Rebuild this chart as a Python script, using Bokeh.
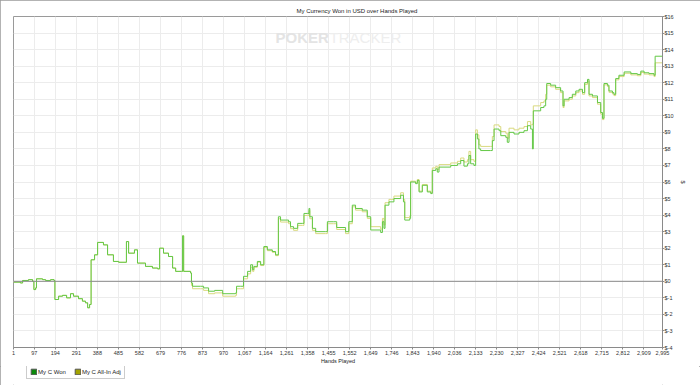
from bokeh.plotting import figure
from bokeh.layouts import column
from bokeh.models import FixedTicker, Span, Legend, LegendItem, Label, Range1d
from bokeh.embed import file_html
from bokeh.resources import INLINE

# ---- data ----
hands = [1, 33, 43, 70, 89, 95, 103, 107, 135, 149,
         172, 188, 192, 209, 227, 246, 264, 278, 301, 319,
         333, 343, 352, 359, 375, 389, 416, 435, 462, 486,
         522, 532, 559, 573, 610, 642, 666, 675, 693, 716,
         735, 749, 776, 781, 786, 818, 822, 827, 864, 878,
         901, 929, 966, 1026, 1030, 1049, 1062, 1081, 1095, 1104,
         1110, 1126, 1141, 1156, 1172, 1195, 1210, 1223, 1233, 1270,
         1279, 1293, 1312, 1335, 1341, 1356, 1364, 1368, 1380, 1395,
         1441, 1449, 1478, 1492, 1533, 1548, 1564, 1579, 1610, 1633,
         1649, 1695, 1703, 1710, 1715, 1733, 1756, 1787, 1800, 1806,
         1829, 1833, 1856, 1864, 1872, 1887, 1910, 1926, 1933, 1949,
         1956, 1964, 1987, 2018, 2049, 2064, 2079, 2095, 2102, 2110,
         2125, 2133, 2141, 2148, 2156, 2202, 2210, 2218, 2241, 2249,
         2272, 2279, 2287, 2310, 2333, 2356, 2372, 2387, 2395, 2399,
         2425, 2433, 2448, 2456, 2461, 2479, 2502, 2525, 2536, 2541,
         2564, 2579, 2595, 2610, 2626, 2636, 2649, 2656, 2672, 2695,
         2710, 2718, 2725, 2741, 2748, 2764, 2771, 2779, 2794, 2818,
         2849, 2879, 2895, 2910, 2933, 2956, 2961, 2995]

my_c_won = [-0.05, -0.1, 0.05, 0.1, 0.0, -0.5, -0.4, 0.15, 0.1, 0.05,
            0.1, 0.05, -1.1, -0.9, -0.85, -1.0, -0.75, -0.9, -1.05, -1.2,
            -1.3, -1.6, -1.4, 1.3, 1.6, 2.35, 2.2, 1.6, 1.2, 1.15,
            2.4, 1.7, 1.9, 1.1, 0.9, 0.8, 0.75, 2.0, 1.7, 1.5,
            0.8, 0.6, 0.6, 2.75, 0.6, 0.5, -0.1, -0.3, -0.3, -0.4,
            -0.6, -0.55, -0.75, -0.7, -0.3, -0.3, 0.3, 0.6, 1.0, 0.7,
            0.9, 1.2, 1.0, 2.1, 1.9, 1.8, 1.6, 3.9, 3.7, 3.6,
            3.3, 3.2, 3.5, 3.5, 4.1, 4.1, 4.4, 3.9, 3.2, 3.0,
            3.0, 3.6, 3.6, 3.25, 3.0, 3.6, 4.6, 4.4, 4.3, 3.9,
            3.1, 2.95, 3.6, 3.2, 4.6, 4.8, 5.0, 5.2, 4.8, 3.7,
            3.8, 6.0, 5.9, 6.1, 5.4, 5.8, 5.4, 5.3, 6.7, 6.8,
            6.6, 6.9, 6.9, 7.0, 7.1, 7.3, 6.96, 7.1, 7.6, 7.1,
            7.0, 8.9, 8.6, 8.0, 7.9, 7.9, 8.5, 9.2, 9.1, 8.8,
            8.7, 8.4, 9.0, 8.9, 9.0, 9.1, 9.4, 9.2, 8.0, 10.3,
            10.3, 10.5, 10.6, 11.0, 11.95, 11.85, 11.7, 11.5, 10.6, 11.0,
            11.1, 11.3, 11.5, 11.6, 11.4, 12.0, 12.2, 11.3, 11.2, 10.8,
            10.2, 9.85, 11.95, 11.85, 11.5, 11.4, 11.3, 12.25, 12.45, 12.65,
            12.55, 12.5, 12.7, 12.6, 12.55, 12.45, 13.6, 13.6]

my_c_allin_adj = [-0.05, -0.1, 0.05, 0.1, 0.0, -0.5, -0.4, 0.15, 0.1, 0.05,
                  0.1, 0.05, -1.1, -0.9, -0.85, -1.0, -0.75, -0.9, -1.05, -1.2,
                  -1.3, -1.6, -1.4, 1.3, 1.6, 2.35, 2.2, 1.6, 1.2, 1.15,
                  2.4, 1.7, 1.9, 1.1, 0.9, 0.8, 0.75, 2.0, 1.7, 1.5,
                  0.8, 0.6, 0.6, 2.75, 0.6, 0.5, -0.25, -0.45, -0.45, -0.55,
                  -0.75, -0.7, -0.9, -0.85, -0.45, -0.45, 0.15, 0.45, 0.85, 0.6,
                  0.85, 1.15, 0.95, 2.05, 1.85, 1.75, 1.55, 3.78, 3.58, 3.48,
                  3.18, 3.08, 3.38, 3.38, 3.98, 3.98, 4.28, 3.78, 3.08, 2.88,
                  2.88, 3.48, 3.48, 3.13, 2.88, 3.48, 4.5, 4.3, 4.2, 3.8,
                  3.3, 3.15, 3.8, 3.4, 4.75, 4.95, 5.15, 5.35, 4.95, 3.85,
                  3.95, 6.05, 5.95, 6.15, 5.45, 5.85, 5.45, 5.35, 6.85, 6.95,
                  6.75, 7.05, 7.05, 7.15, 7.25, 7.45, 7.21, 7.35, 7.85, 7.35,
                  7.25, 9.15, 8.85, 8.25, 8.15, 8.15, 8.75, 9.45, 9.35, 9.05,
                  8.95, 8.65, 9.25, 9.15, 9.25, 9.35, 9.65, 9.45, 9.5, 10.6,
                  10.6, 10.8, 10.9, 11.3, 11.85, 11.75, 11.6, 11.4, 10.5, 10.9,
                  11.0, 11.2, 11.4, 11.5, 11.3, 11.9, 12.1, 11.2, 11.1, 10.7,
                  10.1, 9.77, 11.87, 11.77, 11.42, 11.32, 11.22, 12.17, 12.37, 12.57,
                  12.47, 12.42, 12.62, 12.52, 12.47, 12.37, 13.2, 13.2]

x_ticks = [1, 97, 194, 291, 388, 485, 582, 679, 776, 873, 970, 1067, 1164,
           1261, 1358, 1455, 1552, 1649, 1746, 1843, 1940, 2036, 2133, 2230,
           2327, 2424, 2521, 2618, 2715, 2812, 2909, 2995]
x_tick_labels = ["1", "97", "194", "291", "388", "485", "582", "679", "776",
                 "873", "970", "1,067", "1,164", "1,261", "1,358", "1,455",
                 "1,552", "1,649", "1,746", "1,843", "1,940", "2,036", "2,133",
                 "2,230", "2,327", "2,424", "2,521", "2,618", "2,715", "2,812",
                 "2,909", "2,995"]
y_ticks = [-4, -3, -2, -1, 0, 1, 2, 3, 4, 5, 6, 7, 8, 9, 10, 11, 12, 13, 14, 15, 16]
y_tick_labels = ["$-4", "$-3", "$-2", "$-1", "$0", "$1", "$2", "$3", "$4", "$5",
                 "$6", "$7", "$8", "$9", "$10", "$11", "$12", "$13", "$14",
                 "$15", "$16"]
series_names = ["My C Won", "My C All-In Adj"]

assert len(hands) == len(my_c_won) == len(my_c_allin_adj)

FONT = "Liberation Sans"
GRAY = "#9a9a9a"

p = figure(width=700, height=366,
           x_range=Range1d(1, 2995), y_range=Range1d(-4, 16),
           y_axis_location="right",
           output_backend="svg", toolbar_location=None,
           min_border_left=13, min_border_right=38,
           min_border_top=16, min_border_bottom=18,
           background_fill_color="white", border_fill_color="white",
           outline_line_color=GRAY)

p.title.text = "My Currency Won in USD over Hands Played"
p.title.text_font = FONT
p.title.text_font_size = "6px"
p.title.text_font_style = "normal"
p.title.text_color = "#222222"
p.title.align = "left"
p.title.offset = 283
p.title.standoff = 6

# grids
p.xgrid.ticker = FixedTicker(ticks=x_ticks)
p.ygrid.ticker = FixedTicker(ticks=y_ticks)
p.xgrid.grid_line_color = "#ececec"
p.ygrid.grid_line_color = "#ececec"

# axes
xa = p.xaxis[0]
xa.ticker = FixedTicker(ticks=x_ticks)
xa.major_label_overrides = {t: l for t, l in zip(x_ticks, x_tick_labels)}
xa.axis_label = "Hands Played"
ya = p.yaxis[0]
ya.ticker = FixedTicker(ticks=y_ticks)
ya.major_label_overrides = {t: l for t, l in zip(y_ticks, y_tick_labels)}
ya.axis_label = "$"
for ax in (xa, ya):
    ax.axis_line_color = "#8a8a8a"
    ax.major_tick_line_color = "#8a8a8a"
    ax.minor_tick_line_color = None
    ax.major_tick_in = 0
    ax.major_tick_out = 2
    ax.major_label_text_font = FONT
    ax.major_label_text_font_size = "5.5px"
    ax.major_label_text_color = "#333333"
    ax.major_label_standoff = 1
    ax.axis_label_text_font = FONT
    ax.axis_label_text_font_size = "5.5px"
    ax.axis_label_text_font_style = "normal"
    ax.axis_label_text_color = "#222222"
    ax.axis_label_standoff = 0
ya.major_tick_out = 2
ya.major_label_standoff = 0
ya.axis_label_standoff = 3

# watermark
p.add_layout(Label(x=1210, y=14.73, text="POKER", text_font=FONT,
                   text_font_size="15px", text_font_style="bold",
                   text_color="#e4e4e4", text_baseline="middle", level="underlay"))
p.add_layout(Label(x=1459, y=14.73, text="TRACKER", text_font=FONT,
                   text_font_size="15px", text_color="#eeeeee",
                   text_baseline="middle", level="underlay"))

# zero line
p.add_layout(Span(location=0, dimension="width", line_color="#8a8a8a", line_width=1))

# series lines (cumulative results move hand by hand, so draw them as steps)
p.step(hands, my_c_allin_adj, mode="after", line_color="#d9d97f", line_width=1)
p.step(hands, my_c_won, mode="after", line_color="#63c846", line_width=1)

# ---- legend strip below the chart ----
lg = figure(width=700, height=19, output_backend="svg", toolbar_location=None,
            x_axis_type=None, y_axis_type=None,
            min_border_left=0, min_border_right=0, min_border_top=0, min_border_bottom=0,
            background_fill_color="white", border_fill_color="white",
            outline_line_color=None)
lg.xgrid.visible = False
lg.ygrid.visible = False
nan = float("nan")
sw1 = lg.quad(left=[nan], right=[nan], top=[nan], bottom=[nan],
              fill_color="#0a8a0a", line_color="#555555")
sw2 = lg.quad(left=[nan], right=[nan], top=[nan], bottom=[nan],
              fill_color="#a3a300", line_color="#555555")
legend = Legend(items=[LegendItem(label=series_names[0], renderers=[sw1]),
                       LegendItem(label=series_names[1], renderers=[sw2])],
                orientation="horizontal", location=(13, 6),
                label_text_font=FONT, label_text_font_size="6px",
                label_text_color="#222222",
                glyph_width=7, glyph_height=7, label_height=7, label_width=1,
                label_standoff=1, spacing=8, padding=3, margin=0,
                border_line_color=GRAY, background_fill_color="white",
                background_fill_alpha=1.0)
lg.add_layout(legend)

layout = column(p, lg, spacing=0,
                styles={"outline": "1px solid " + GRAY, "outline-offset": "-1px"})

open("out.html", "w").write(file_html(layout, INLINE))
